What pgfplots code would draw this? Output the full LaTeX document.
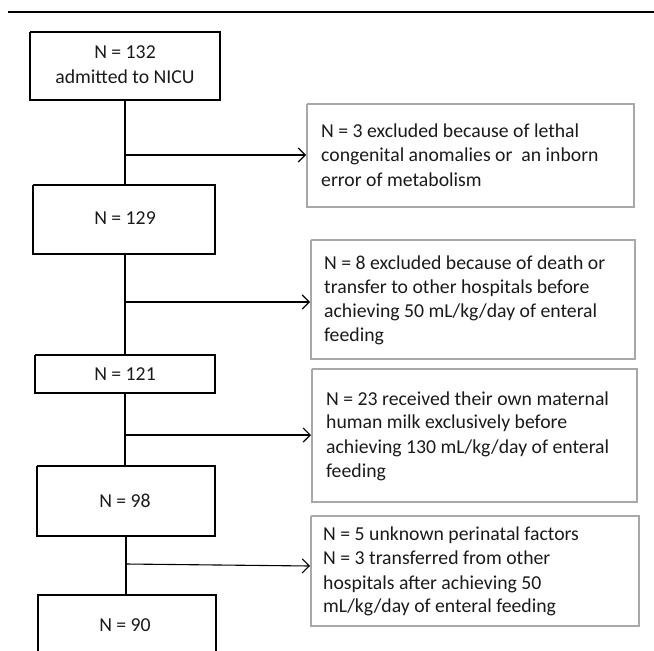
\documentclass[border=0pt]{standalone}
\usepackage{pgfplots}
\pgfplotsset{compat=1.18}
\usepackage{fontspec}
\setmainfont{Carlito}
\usetikzlibrary{arrows.meta}
\definecolor{gbox}{HTML}{A8A8A8}
\definecolor{txt}{HTML}{1A1A1A}
\tikzset{t/.style={font=\fontsize{19.8}{24}\selectfont, text=txt, inner sep=0pt}}
\begin{document}
\begin{tikzpicture}
\begin{axis}[
  width=654bp, height=651bp, scale only axis,
  xmin=0, xmax=654, ymin=0, ymax=651, y dir=reverse,
  axis lines=none, ticks=none, clip=false,
]
\coordinate (bl) at (axis cs:0,651);
\coordinate (tr) at (axis cs:654,0);
% top rule
\addplot[black, line width=2bp] coordinates {(8,12) (654,12)};
% main boxes
\addplot[black, line width=1.3bp] coordinates {(30,32) (220,32) (220,100) (30,100) (30,32)};
\addplot[black, line width=1.3bp] coordinates {(33,185) (215,185) (215,254) (33,254) (33,185)};
\addplot[black, line width=1.3bp] coordinates {(35,355) (215,355) (215,393) (35,393) (35,355)};
\addplot[black, line width=1.3bp] coordinates {(37,466) (215,466) (215,536) (37,536) (37,466)};
\addplot[black, line width=1.3bp] coordinates {(38,652) (38,595) (216,595) (216,652)};
% vertical connectors
\addplot[black, line width=1.1bp] coordinates {(125,100) (125,185)};
\addplot[black, line width=1.1bp] coordinates {(125,254) (125,355)};
\addplot[black, line width=1.1bp] coordinates {(125,393) (125,466)};
\addplot[black, line width=1.1bp] coordinates {(126,536) (126,595)};
% arrows
\addplot[black, line width=1.1bp, -{Straight Barb[length=7bp,width=14bp]}] coordinates {(125,155) (306,155)};
\addplot[black, line width=1.1bp, -{Straight Barb[length=7bp,width=14bp]}] coordinates {(125,302) (310,302)};
\addplot[black, line width=1.1bp, -{Straight Barb[length=7bp,width=14bp]}] coordinates {(125,435) (311,435)};
\addplot[black, line width=1.1bp, -{Straight Barb[length=7bp,width=14bp]}] coordinates {(126,564) (310,566)};
% grey boxes
\addplot[gbox, line width=1.2bp] coordinates {(307,104) (634,104) (634,207) (307,207) (307,104)};
\addplot[gbox, line width=1.2bp] coordinates {(311,240) (635,240) (635,359) (311,359) (311,240)};
\addplot[gbox, line width=1.2bp] coordinates {(312,369) (637,369) (637,502) (312,502) (312,369)};
\addplot[gbox, line width=1.2bp] coordinates {(311,516) (639,516) (639,626) (311,626) (311,516)};
% main box text
\node[t] at (axis cs:125,54) {\vphantom{Ng}N = 132};
\node[t] at (axis cs:125,78) {\vphantom{Ng}admitted to NICU};
\node[t] at (axis cs:125,220) {\vphantom{Ng}N = 129};
\node[t] at (axis cs:125,376) {\vphantom{Ng}N = 121};
\node[t] at (axis cs:125,502) {\vphantom{Ng}N = 98};
\node[t] at (axis cs:125,627) {\vphantom{Ng}N = 90};
% side texts
\node[t,anchor=west] at (axis cs:321,132) {\vphantom{Ng}N = 3 excluded because of lethal};
\node[t,anchor=west] at (axis cs:321,156) {\vphantom{Ng}congenital anomalies or\ \ an inborn};
\node[t,anchor=west] at (axis cs:321,181) {\vphantom{Ng}error of metabolism};
\node[t,anchor=west] at (axis cs:324,264) {\vphantom{Ng}N = 8 excluded because of death or};
\node[t,anchor=west] at (axis cs:324,288) {\vphantom{Ng}transfer to other hospitals before};
\node[t,anchor=west] at (axis cs:324,312) {\vphantom{Ng}achieving 50 mL/kg/day of enteral};
\node[t,anchor=west] at (axis cs:324,336) {\vphantom{Ng}feeding};
\node[t,anchor=west] at (axis cs:326,400) {\vphantom{Ng}N = 23 received their own maternal};
\node[t,anchor=west] at (axis cs:326,423) {\vphantom{Ng}human milk exclusively before};
\node[t,anchor=west] at (axis cs:326,448) {\vphantom{Ng}achieving 130 mL/kg/day of enteral};
\node[t,anchor=west] at (axis cs:326,472) {\vphantom{Ng}feeding};
\node[t,anchor=west] at (axis cs:323,535) {\vphantom{Ng}N = 5 unknown perinatal factors};
\node[t,anchor=west] at (axis cs:323,559) {\vphantom{Ng}N = 3 transferred from other};
\node[t,anchor=west] at (axis cs:323,584) {\vphantom{Ng}hospitals after achieving 50};
\node[t,anchor=west] at (axis cs:323,607) {\vphantom{Ng}mL/kg/day of enteral feeding};
\end{axis}
\pgfresetboundingbox
\path[use as bounding box] (bl) rectangle (tr);
\end{tikzpicture}
\end{document}
